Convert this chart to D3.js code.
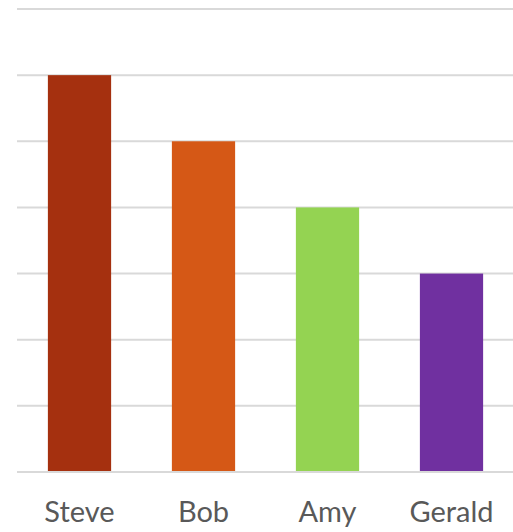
<!DOCTYPE html>
<html>
<head>
<meta charset="utf-8">
<script src="https://cdn.jsdelivr.net/npm/d3@7"></script>
<style>
  html, body { margin: 0; padding: 0; background: #fff; }
  svg { display: block; }
</style>
</head>
<body>
<svg id="chart" width="513" height="532"></svg>
<script>
// Data
const categories = ["Steve", "Bob", "Amy", "Gerald"];
const values = [6, 5, 4, 3];
const barColors = ["#A5300F", "#D55816", "#94D352", "#7030A0"];
const yTicks = [0, 1, 2, 3, 4, 5, 6, 7];

const svg = d3.select("#chart");

const x = d3.scaleBand()
  .domain(categories)
  .range([17.5, 513.5])
  .paddingInner(0.49)
  .paddingOuter(0.245);

const y = d3.scaleLinear()
  .domain([0, 7])
  .range([472, 9]);

// Horizontal gridlines
svg.append("g")
  .selectAll("line")
  .data(yTicks)
  .join("line")
  .attr("x1", 17)
  .attr("x2", 513)
  .attr("y1", d => y(d))
  .attr("y2", d => y(d))
  .attr("stroke", "#d9d9d9")
  .attr("stroke-width", 2);

// Bars
svg.append("g")
  .selectAll("rect")
  .data(categories)
  .join("rect")
  .attr("x", d => x(d))
  .attr("width", x.bandwidth())
  .attr("y", (d, i) => y(values[i]))
  .attr("height", (d, i) => y(0) - y(values[i]) - 1)
  .attr("fill", (d, i) => barColors[i]);

// Category axis labels
const xAxis = d3.axisBottom(x).tickSize(0).tickPadding(0);
const gx = svg.append("g")
  .attr("transform", "translate(0,522)")
  .call(xAxis);
gx.select(".domain").remove();
gx.selectAll("text")
  .attr("dy", 0)
  .attr("fill", "#595959")
  .style("font-family", "Lato, 'Open Sans', sans-serif")
  .style("font-size", "29px");
</script>
</body>
</html>
